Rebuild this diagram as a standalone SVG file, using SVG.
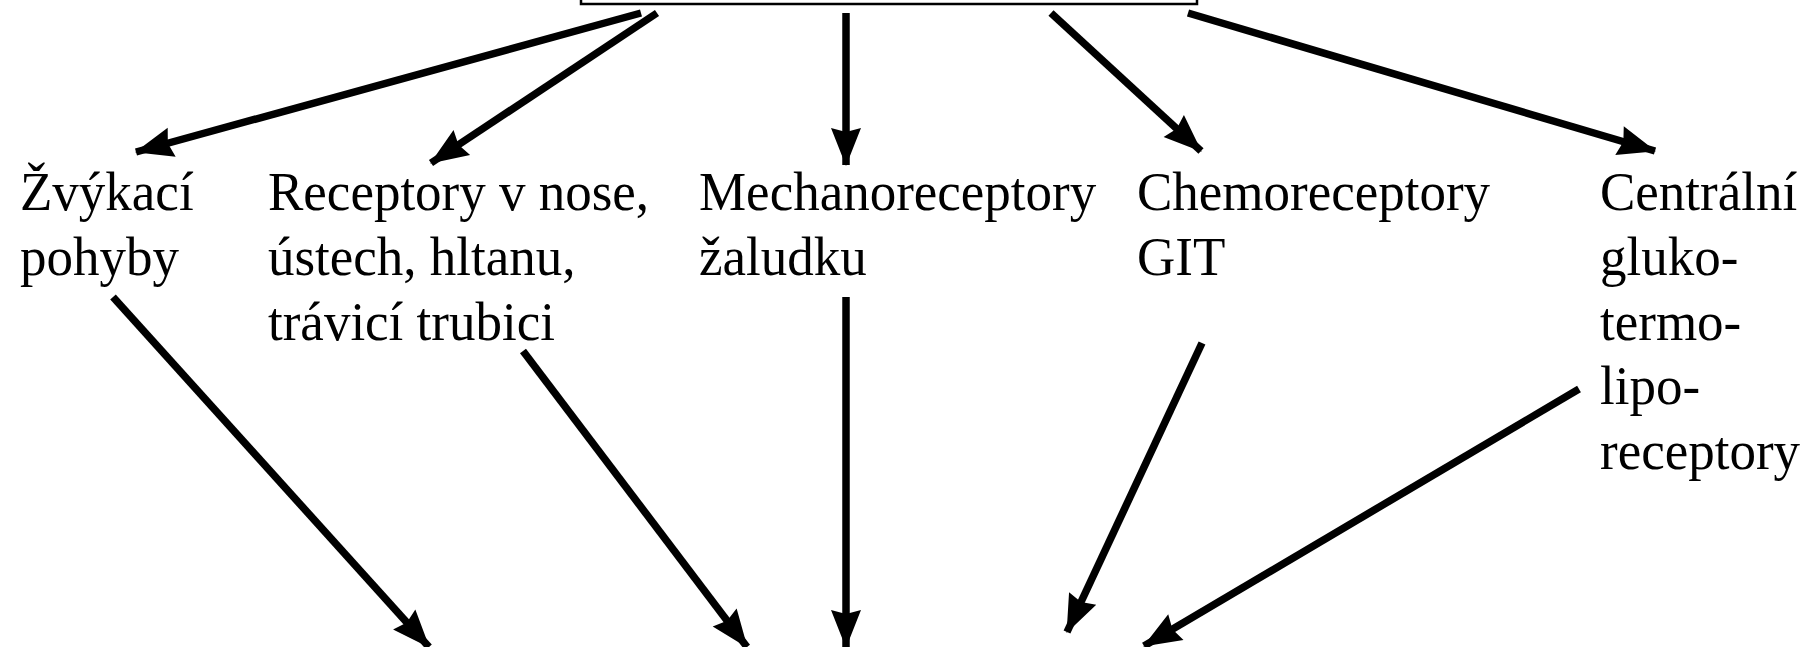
<svg xmlns="http://www.w3.org/2000/svg" width="1805" height="647" viewBox="0 0 1805 647">
<style>
.t{font-family:"Liberation Serif","Times New Roman",serif;font-size:53px;fill:#000}
.c line{stroke:#000;stroke-width:7.5;marker-end:url(#ah)}
</style>
<defs>
<marker id="ah" markerUnits="userSpaceOnUse" markerWidth="40" markerHeight="32" viewBox="0 0 40 32" refX="37" refY="16" orient="auto" overflow="visible">
<path d="M38,16 L0,1 L4,16 L0,31 Z" fill="#000"/>
</marker>
</defs>
<g id="top-box"><rect x="581" y="-60" width="616" height="64" fill="#fff" stroke="#000" stroke-width="2.5"/></g>
<g class="c" id="connectors">
<line x1="641" y1="13" x2="136" y2="152"/>
<line x1="657" y1="13" x2="431" y2="163"/>
<line x1="846" y1="13" x2="846" y2="165"/>
<line x1="1051" y1="13" x2="1201" y2="151"/>
<line x1="1188" y1="13" x2="1655" y2="151"/>
<line x1="113" y1="297" x2="429" y2="647"/>
<line x1="523" y1="351" x2="747" y2="647"/>
<line x1="846" y1="297" x2="846" y2="647"/>
<line x1="1202" y1="343" x2="1067" y2="632"/>
<line x1="1579" y1="389" x2="1144" y2="646"/>
</g>
<g id="n1"><text class="t" transform="translate(20,210) scale(1,1.05)">Žvýkací</text><text class="t" transform="translate(20,275) scale(1,1.05)">pohyby</text></g>
<g id="n2"><text class="t" transform="translate(268,210) scale(1,1.05)">Receptory v nose,</text><text class="t" transform="translate(268,275) scale(1,1.05)">ústech, hltanu,</text><text class="t" transform="translate(268,340) scale(1,1.05)">trávicí trubici</text></g>
<g id="n3"><text class="t" transform="translate(699,210) scale(1,1.05)">Mechanoreceptory</text><text class="t" transform="translate(699,275) scale(1,1.05)">žaludku</text></g>
<g id="n4"><text class="t" transform="translate(1137,210) scale(1,1.05)">Chemoreceptory</text><text class="t" transform="translate(1137,275) scale(1,1.05)">GIT</text></g>
<g id="n5"><text class="t" transform="translate(1600,210) scale(1,1.05)">Centrální</text><text class="t" transform="translate(1600,275) scale(1,1.05)">gluko-</text><text class="t" transform="translate(1600,340) scale(1,1.05)">termo-</text><text class="t" transform="translate(1600,404) scale(1,1.05)">lipo-</text><text class="t" transform="translate(1600,469) scale(1,1.05)">receptory</text></g>
</svg>
